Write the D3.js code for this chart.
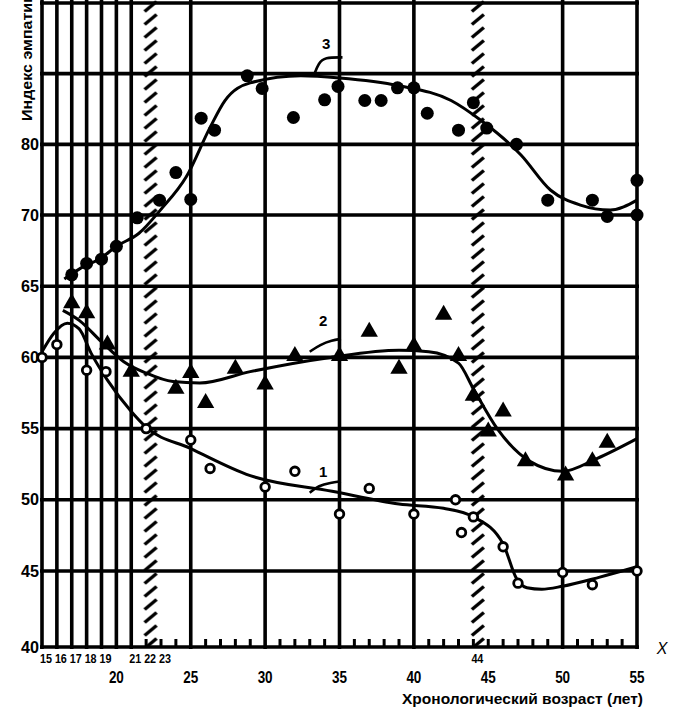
<!DOCTYPE html>
<html><head><meta charset="utf-8">
<script src="https://cdn.jsdelivr.net/npm/d3@7"></script>
<style>body{margin:0;background:#fff}svg{display:block}</style>
</head><body><svg id="c" width="681" height="722"></svg>
<script>
// ---- data ----
const yGrid = [40,45,50,55,60,65,70,80,90,100];
const yTickLabels = [40,45,50,55,60,65,70,80];
const xGrid = [15,16,17,18,19,20,21,25,30,35,40,50,55];
const xMinor = [22,23,24,26,27,28,29,31,32,33,34,36,37,38,39,41,42,43,44,45,46,47,48,49,51,52,53,54];
const xLabelsRow1 = [15,16,17,18,19,21,22,23,44];
const xLabelsRow2 = [20,25,30,35,40,45,50,55];
const hatchBands = [22.3, 44.3];

// series 1 (open circles)
const s1Age = [15,16,18,19.3,22,25,26.3,30,32,35,37,40,42.8,43.2,44,46,47,50,52,55];
const s1Val = [60,60.9,59.1,59,55,54.2,52.2,50.9,52,49,50.8,49,50,47.7,48.8,46.7,44.2,44.9,44.1,45];
const c1Age = [15,15.8,16.7,17.5,18.3,19.4,21,22,25,29,34.5,39,42,44,46,46.9,47.6,48.6,50,52.5,55];
const c1Val = [60.4,61.7,62.4,62.0,60.3,58.4,56.2,55.1,53.6,51.7,50.6,49.7,49.4,48.8,46.9,44.5,43.9,43.8,44,44.6,45.3];

// series 2 (triangles)
const s2Age = [17,18,19.4,21,24,25,26,28,30,32,35,37,39,40,42,43,44,45,46,47.5,50.2,52,53];
const s2Val = [63.8,63.1,60.9,59,57.8,58.9,56.8,59.2,58.1,60.1,60.1,61.8,59.2,60.8,63,60.1,57.3,54.8,56.2,52.7,51.7,52.7,54];
const c2Age = [16.4,17.5,19,20.5,22,23.8,25.6,29,34.4,39,41,43,44,45.6,47.8,50,52.3,55];
const c2Val = [63.3,62.6,61.1,59.7,58.9,58.3,58.2,59,60,60.5,60.4,59.6,57.8,55,52.7,52,52.9,54.3];

// series 3 (filled circles)
const s3Age = [17,18,19,20,21.4,22.9,24,25,25.7,26.6,28.8,29.8,31.9,34,34.9,36.7,37.8,38.9,40,40.9,43,44,44.9,46.9,49,52,53,55,55];
const s3Val = [65.8,66.6,66.9,67.8,69.8,72.1,76,72.2,83.7,82,89.7,87.9,83.8,86.3,88.2,86.2,86.2,88,88,84.4,82,85.9,82.3,80,72.1,72.1,69.9,74.9,70];
const c3Age = [16.5,17.5,19,20,21.5,23,24.7,26.3,27.3,29,32.4,35,39,42.5,44.5,47.2,49.2,51.2,53.2,55];
const c3Val = [65.5,66.2,67.0,67.8,68.7,70.8,75.4,82.4,86.2,88.7,89.7,89.4,88.3,86.2,83.4,78.5,73.5,71.4,70.7,72.1];

// curve labels: text, label position, leader path (age / value)
const curveLabels = ["1","2","3"];
const labelAge = [33.9,33.9,34.1];
const labelVal = [52,62.6,94.2];
const leaderAge = [[33,33.6,34.4,35.1],[33,33.7,34.5,35.1],[33.3,33.6,34.0,35.2]];
const leaderVal = [[50.5,51.0,51.2,51.3],[60.4,60.9,61.2,61.3],[89.9,91.5,92.3,92.3]];

// ---- drawing ----
const svg = d3.select("#c");
svg.append("rect").attr("width",681).attr("height",722).attr("fill","#fff");
const x = d3.scaleLinear().domain([15,55]).range([42,637]);
const y = d3.scaleLinear().domain([40,45,70,100]).range([647,571,215,3]);
const FONT = "'Liberation Sans', Arial, sans-serif";

// hatch bands (one pattern per band, aligned to the band)
const defs = svg.append("defs");
hatchBands.forEach((v,i) => {
  const left = x(v) - 8;
  const pat = defs.append("pattern").attr("id","hatch"+i).attr("patternUnits","userSpaceOnUse")
    .attr("x",left).attr("y",0).attr("width",16).attr("height",13);
  pat.append("line").attr("x1",2).attr("y1",11.5).attr("x2",14).attr("y2",1.5)
    .attr("stroke","#000").attr("stroke-width",3.4);
  svg.append("rect").attr("x",left).attr("y",0).attr("width",16).attr("height",y(40))
    .attr("fill",`url(#hatch${i})`);
});

const g = svg.append("g");
g.selectAll(".hg").data(yGrid).join("line")
  .attr("x1",x(15)-2).attr("x2",x(55)+2).attr("y1",d=>y(d)).attr("y2",d=>y(d))
  .attr("stroke","#000").attr("stroke-width",3.6);
g.selectAll(".vg").data(xGrid).join("line")
  .attr("x1",d=>x(d)).attr("x2",d=>x(d)).attr("y1",y(100)-3).attr("y2",y(40)+2)
  .attr("stroke","#000").attr("stroke-width",3.6);
g.selectAll(".mt").data(xMinor).join("line")
  .attr("x1",d=>x(d)).attr("x2",d=>x(d)).attr("y1",y(40)).attr("y2",y(40)-8)
  .attr("stroke","#000").attr("stroke-width",3);

// curves
const line = d3.line().x(d=>x(d[0])).y(d=>y(d[1])).curve(d3.curveMonotoneX);
[[c1Age,c1Val],[c2Age,c2Val],[c3Age,c3Val]].forEach(([a,v]) => {
  svg.append("path").attr("d", line(a.map((t,i)=>[t,v[i]])))
    .attr("fill","none").attr("stroke","#000").attr("stroke-width",3);
});

// markers
svg.selectAll(".p3").data(s3Age.map((t,i)=>[t,s3Val[i]])).join("circle")
  .attr("cx",d=>x(d[0])).attr("cy",d=>y(d[1])).attr("r",6.5).attr("fill","#000");
const tri = d3.symbol().type(d3.symbolTriangle).size(130);
svg.selectAll(".p2").data(s2Age.map((t,i)=>[t,s2Val[i]])).join("path")
  .attr("d",tri).attr("transform",d=>`translate(${x(d[0])},${y(d[1])})`).attr("fill","#000");
svg.selectAll(".p1").data(s1Age.map((t,i)=>[t,s1Val[i]])).join("circle")
  .attr("cx",d=>x(d[0])).attr("cy",d=>y(d[1])).attr("r",4.3).attr("fill","#fff")
  .attr("stroke","#000").attr("stroke-width",2.8);

// curve labels + leaders
const leader = d3.line().x(d=>x(d[0])).y(d=>y(d[1])).curve(d3.curveBasis);
curveLabels.forEach((t,i) => {
  svg.append("path").attr("d", leader(leaderAge[i].map((a,j)=>[a,leaderVal[i][j]])))
    .attr("fill","none").attr("stroke","#000").attr("stroke-width",2.6);
  svg.append("text").attr("x",x(labelAge[i])).attr("y",y(labelVal[i])).attr("text-anchor","middle")
    .attr("dominant-baseline","central").attr("font-family",FONT).attr("font-weight","bold")
    .attr("font-size",15).text(t);
});

// y tick labels
svg.selectAll(".yl").data(yTickLabels).join("text")
  .attr("x",39).attr("y",d=>y(d)).attr("text-anchor","end").attr("dominant-baseline","central")
  .attr("font-family",FONT).attr("font-weight","bold").attr("font-size",17)
  .attr("textLength",18).attr("lengthAdjust","spacingAndGlyphs").text(d=>d);

// x tick labels
svg.selectAll(".xl1").data(xLabelsRow1).join("text")
  .attr("x",d=>x(d)+4).attr("y",658).attr("text-anchor","middle").attr("dominant-baseline","central")
  .attr("font-family",FONT).attr("font-weight","bold").attr("font-size",13)
  .attr("textLength",12).attr("lengthAdjust","spacingAndGlyphs").text(d=>d);
svg.selectAll(".xl2").data(xLabelsRow2).join("text")
  .attr("x",d=>x(d)).attr("y",677).attr("text-anchor","middle").attr("dominant-baseline","central")
  .attr("font-family",FONT).attr("font-weight","bold").attr("font-size",17)
  .attr("textLength",15).attr("lengthAdjust","spacingAndGlyphs").text(d=>d);

// axis titles
svg.append("text").attr("x",662).attr("y",648).attr("text-anchor","middle").attr("dominant-baseline","central")
  .attr("font-family",FONT).attr("font-size",16).attr("font-style","italic").text("X");
svg.append("text").attr("x",402).attr("y",698).attr("dominant-baseline","central")
  .attr("font-family",FONT).attr("font-weight","bold").attr("font-size",15)
  .attr("textLength",241).attr("lengthAdjust","spacingAndGlyphs").text("Хронологический возраст (лет)");
svg.append("text").attr("transform","translate(26,121) rotate(-90)").attr("dominant-baseline","central")
  .attr("font-family",FONT).attr("font-weight","bold").attr("font-size",15)
  .attr("textLength",128).attr("lengthAdjust","spacingAndGlyphs").text("Индекс эмпатии");
</script></body></html>
